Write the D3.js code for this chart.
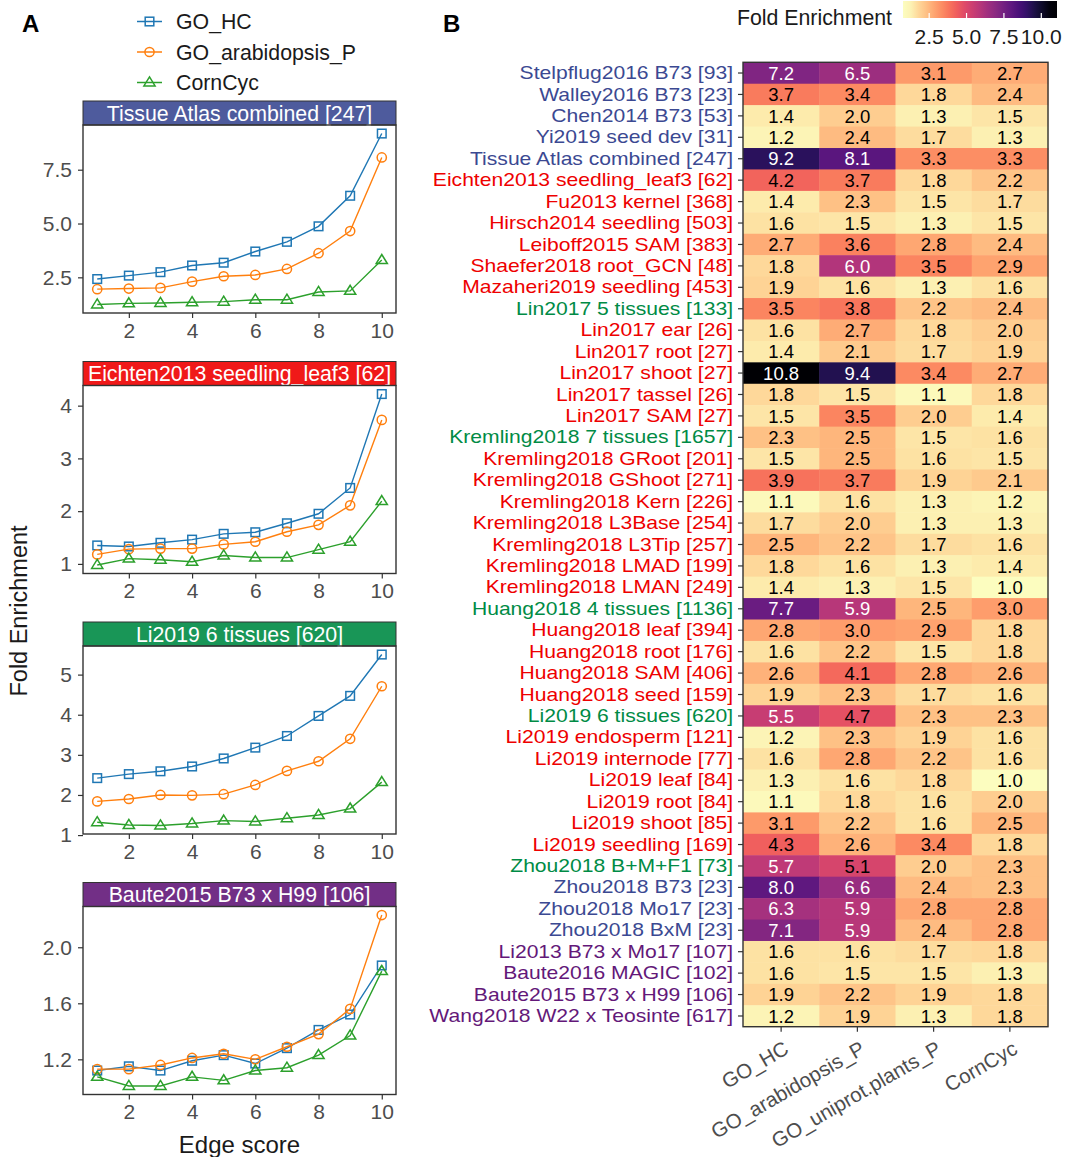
<!DOCTYPE html>
<html>
<head>
<meta charset="utf-8">
<script src="https://cdn.jsdelivr.net/npm/d3@7"></script>
<style>
  body { margin: 0; background: #fff; }
  text { font-family: "Liberation Sans", Arial, sans-serif; }
</style>
</head>
<body>
<script>
// ---------- panel A data ----------
var edgeScore = [1, 2, 3, 4, 5, 6, 7, 8, 9, 10];
var seriesNames = ["GO_HC", "GO_arabidopsis_P", "CornCyc"];
var seriesColors = ["#1f77b4", "#ff7f0e", "#2ca02c"];
var seriesShapes = ["square", "circle", "triangle"];
var panelTitles = ["Tissue Atlas combined [247]", "Eichten2013 seedling_leaf3 [62]",
                   "Li2019 6 tissues [620]", "Baute2015 B73 x H99 [106]"];
var panelGroup = ["B", "R", "G", "P"];
var goHC = [
  [2.42, 2.58, 2.74, 3.05, 3.18, 3.70, 4.15, 4.87, 6.29, 9.18],
  [1.35, 1.33, 1.40, 1.46, 1.57, 1.60, 1.77, 1.95, 2.44, 4.22],
  [2.42, 2.52, 2.59, 2.71, 2.91, 3.18, 3.47, 3.97, 4.47, 5.50],
  [1.12, 1.15, 1.12, 1.19, 1.23, 1.17, 1.28, 1.41, 1.52, 1.87]
];
var goArab = [
  [1.95, 1.98, 2.01, 2.30, 2.55, 2.61, 2.89, 3.62, 4.65, 8.07],
  [1.18, 1.28, 1.29, 1.29, 1.37, 1.42, 1.61, 1.74, 2.11, 3.73],
  [1.84, 1.90, 2.00, 1.99, 2.02, 2.25, 2.60, 2.84, 3.40, 4.71],
  [1.13, 1.13, 1.16, 1.21, 1.24, 1.20, 1.29, 1.38, 1.56, 2.23]
];
var cornCyc = [
  [1.24, 1.29, 1.31, 1.34, 1.37, 1.46, 1.46, 1.82, 1.87, 3.30],
  [0.98, 1.10, 1.08, 1.04, 1.16, 1.12, 1.12, 1.27, 1.42, 2.19],
  [1.32, 1.25, 1.24, 1.29, 1.36, 1.34, 1.42, 1.50, 1.66, 2.32],
  [1.075, 1.01, 1.01, 1.075, 1.05, 1.12, 1.14, 1.23, 1.37, 1.83]
];
var panelTicks = [[2.5, 5.0, 7.5], [1, 2, 3, 4], [1, 2, 3, 4, 5], [1.2, 1.6, 2.0]];
var panelTickFmt = [".1f", "d", "d", ".1f"];
var xTicks = [2, 4, 6, 8, 10];

// ---------- panel B data ----------
var datasets = ["Stelpflug2016 B73 [93]", "Walley2016 B73 [23]", "Chen2014 B73 [53]", "Yi2019 seed dev [31]",
  "Tissue Atlas combined [247]", "Eichten2013 seedling_leaf3 [62]", "Fu2013 kernel [368]", "Hirsch2014 seedling [503]",
  "Leiboff2015 SAM [383]", "Shaefer2018 root_GCN [48]", "Mazaheri2019 seedling [453]", "Lin2017 5 tissues [133]",
  "Lin2017 ear [26]", "Lin2017 root [27]", "Lin2017 shoot [27]", "Lin2017 tassel [26]", "Lin2017 SAM [27]",
  "Kremling2018 7 tissues [1657]", "Kremling2018 GRoot [201]", "Kremling2018 GShoot [271]", "Kremling2018 Kern [226]",
  "Kremling2018 L3Base [254]", "Kremling2018 L3Tip [257]", "Kremling2018 LMAD [199]", "Kremling2018 LMAN [249]",
  "Huang2018 4 tissues [1136]", "Huang2018 leaf [394]", "Huang2018 root [176]", "Huang2018 SAM [406]",
  "Huang2018 seed [159]", "Li2019 6 tissues [620]", "Li2019 endosperm [121]", "Li2019 internode [77]",
  "Li2019 leaf [84]", "Li2019 root [84]", "Li2019 shoot [85]", "Li2019 seedling [169]", "Zhou2018 B+M+F1 [73]",
  "Zhou2018 B73 [23]", "Zhou2018 Mo17 [23]", "Zhou2018 BxM [23]", "Li2013 B73 x Mo17 [107]",
  "Baute2016 MAGIC [102]", "Baute2015 B73 x H99 [106]", "Wang2018 W22 x Teosinte [617]"];
var datasetGroup = ["B","B","B","B","B","R","R","R","R","R","R","G","R","R","R","R","R","G",
  "R","R","R","R","R","R","R","G","R","R","R","R","G","R","R","R","R","R","R","G","B","B","B","P","P","P","P"];
var heatCols = ["GO_HC", "GO_arabidopsis_P", "GO_uniprot.plants_P", "CornCyc"];
var feGOHC = [7.2,3.7,1.4,1.2,9.2,4.2,1.4,1.6,2.7,1.8,1.9,3.5,1.6,1.4,10.8,1.8,1.5,2.3,1.5,3.9,1.1,1.7,2.5,1.8,1.4,
  7.7,2.8,1.6,2.6,1.9,5.5,1.2,1.6,1.3,1.1,3.1,4.3,5.7,8.0,6.3,7.1,1.6,1.6,1.9,1.2];
var feGOArab = [6.5,3.4,2.0,2.4,8.1,3.7,2.3,1.5,3.6,6.0,1.6,3.8,2.7,2.1,9.4,1.5,3.5,2.5,2.5,3.7,1.6,2.0,2.2,1.6,1.3,
  5.9,3.0,2.2,4.1,2.3,4.7,2.3,2.8,1.6,1.8,2.2,2.6,5.1,6.6,5.9,5.9,1.6,1.5,2.2,1.9];
var feUniprot = [3.1,1.8,1.3,1.7,3.3,1.8,1.5,1.3,2.8,3.5,1.3,2.2,1.8,1.7,3.4,1.1,2.0,1.5,1.6,1.9,1.3,1.3,1.7,1.3,1.5,
  2.5,2.9,1.5,2.8,1.7,2.3,1.9,2.2,1.8,1.6,1.6,3.4,2.0,2.4,2.8,2.4,1.7,1.5,1.9,1.3];
var feCornCyc = [2.7,2.4,1.5,1.3,3.3,2.2,1.7,1.5,2.4,2.9,1.6,2.4,2.0,1.9,2.7,1.8,1.4,1.6,1.5,2.1,1.2,1.3,1.6,1.4,1.0,
  3.0,1.8,1.8,2.6,1.6,2.3,1.6,1.6,1.0,2.0,2.5,1.8,2.3,2.3,2.8,2.8,1.8,1.3,1.8,1.8];
var legendTicks = [2.5, 5.0, 7.5, 10.0];

// AAAS-like group colours
var groupColor = { B: "#3B4992", R: "#EE0000", G: "#008B45", P: "#631879" };

var svg = d3.select("body").append("svg")
  .attr("width", 1065)
  .attr("height", 1157);

// panel letters
svg.append("text").attr("x", 22).attr("y", 32).attr("font-size", 24).attr("font-weight", "bold").text("A");
svg.append("text").attr("x", 443).attr("y", 32).attr("font-size", 24).attr("font-weight", "bold").text("B");

// ---------- panel A ----------
function drawMarker(g, shape, cx, cy, color) {
  if (shape == "square") {
    g.append("rect").attr("x", cx - 4.3).attr("y", cy - 4.3).attr("width", 8.6).attr("height", 8.6)
      .attr("fill", "none").attr("stroke", color).attr("stroke-width", 1.5);
  } else if (shape == "circle") {
    g.append("circle").attr("cx", cx).attr("cy", cy).attr("r", 4.6)
      .attr("fill", "none").attr("stroke", color).attr("stroke-width", 1.5);
  } else {
    var s = 5.6;
    g.append("path")
      .attr("d", "M" + cx + "," + (cy - s) + "L" + (cx + s) + "," + (cy + s * 0.62) + "L" + (cx - s) + "," + (cy + s * 0.62) + "Z")
      .attr("fill", "none").attr("stroke", color).attr("stroke-width", 1.5);
  }
}

// legend
seriesNames.forEach(function(name, k) {
  var ly = 21.5 + k * 30.5;
  svg.append("line").attr("x1", 137).attr("x2", 162).attr("y1", ly).attr("y2", ly)
    .attr("stroke", seriesColors[k]).attr("stroke-width", 1.5);
  drawMarker(svg, seriesShapes[k], 149.5, ly, seriesColors[k]);
  svg.append("text").attr("x", 176).attr("y", ly).attr("dy", "0.36em")
    .attr("font-size", 21.3).attr("fill", "#1a1a1a").text(name);
});

var plotL = 83, plotR = 396, stripH = 24, plotH = 188;
var x = d3.scaleLinear().domain([0.55, 10.45]).range([plotL, plotR]);

panelTitles.forEach(function(title, i) {
  var top = 101 + i * 260.5;
  var pTop = top + stripH, pBot = pTop + plotH;
  var series = [goHC[i], goArab[i], cornCyc[i]];
  var all = d3.merge(series);
  var ext = d3.extent(all), pad = (ext[1] - ext[0]) * 0.05;
  var y = d3.scaleLinear().domain([ext[0] - pad, ext[1] + pad]).range([pBot, pTop]);

  var g = svg.append("g");

  // strip
  g.append("rect").attr("x", plotL).attr("y", top).attr("width", plotR - plotL).attr("height", stripH)
    .attr("fill", groupColor[panelGroup[i]]).attr("fill-opacity", 0.9)
    .attr("stroke", "#333").attr("stroke-width", 1);
  g.append("text").attr("x", (plotL + plotR) / 2).attr("y", top + stripH / 2).attr("dy", "0.36em")
    .attr("text-anchor", "middle").attr("font-size", 21.3).attr("fill", "white").text(title);

  // axes
  var ya = g.append("g").attr("transform", "translate(" + plotL + ",0)")
    .call(d3.axisLeft(y).tickValues(panelTicks[i]).tickFormat(d3.format(panelTickFmt[i])).tickSize(5).tickPadding(6));
  var xa = g.append("g").attr("transform", "translate(0," + pBot + ")")
    .call(d3.axisBottom(x).tickValues(xTicks).tickSize(5).tickPadding(5));
  [ya, xa].forEach(function(a) {
    a.select(".domain").remove();
    a.selectAll(".tick line").attr("stroke", "#333").attr("stroke-width", 1.2);
    a.selectAll(".tick text").attr("font-size", 21).attr("fill", "#4D4D4D")
      .attr("font-family", "Liberation Sans, Arial, sans-serif");
  });

  // lines and markers
  series.forEach(function(vals, k) {
    var line = d3.line().x(function(d, j) { return x(edgeScore[j]); }).y(function(d) { return y(d); });
    g.append("path").datum(vals).attr("d", line).attr("fill", "none")
      .attr("stroke", seriesColors[k]).attr("stroke-width", 1.4);
    vals.forEach(function(v, j) {
      drawMarker(g, seriesShapes[k], x(edgeScore[j]), y(v), seriesColors[k]);
    });
  });

  // panel border
  g.append("rect").attr("x", plotL).attr("y", pTop).attr("width", plotR - plotL).attr("height", plotH)
    .attr("fill", "none").attr("stroke", "#333").attr("stroke-width", 1.4);
});

svg.append("text").attr("transform", "translate(27,611) rotate(-90)")
  .attr("text-anchor", "middle").attr("font-size", 23.5).attr("fill", "#1a1a1a").text("Fold Enrichment");
svg.append("text").attr("x", (plotL + plotR) / 2).attr("y", 1153)
  .attr("text-anchor", "middle").attr("font-size", 24).attr("fill", "#1a1a1a").text("Edge score");

// ---------- panel B: heatmap ----------
var hx = d3.scaleBand().domain(heatCols).range([743, 1048]);
var hy = d3.scaleBand().domain(datasets).range([62.3, 1026.7]);
var cellVals = [feGOHC, feGOArab, feUniprot, feCornCyc];
var cMin = d3.min(d3.merge(cellVals)), cMax = d3.max(d3.merge(cellVals));
var color = d3.scaleSequential(function(t) { return d3.interpolateMagma(1 - t); }).domain([cMin, cMax]);

var cells = [];
datasets.forEach(function(ds, r) {
  heatCols.forEach(function(col, c) {
    cells.push({ ds: ds, col: col, v: cellVals[c][r] });
  });
});

var hg = svg.append("g");
hg.selectAll("rect.cell").data(cells).enter().append("rect")
  .attr("class", "cell")
  .attr("x", function(d) { return hx(d.col); })
  .attr("y", function(d) { return hy(d.ds); })
  .attr("width", hx.bandwidth() + 0.5)
  .attr("height", hy.bandwidth() + 0.5)
  .attr("fill", function(d) { return color(d.v); });
hg.selectAll("text.val").data(cells).enter().append("text")
  .attr("class", "val")
  .attr("x", function(d) { return hx(d.col) + hx.bandwidth() / 2; })
  .attr("y", function(d) { return hy(d.ds) + hy.bandwidth() / 2; })
  .attr("dy", "0.36em")
  .attr("text-anchor", "middle")
  .attr("font-size", 18.5)
  .attr("fill", function(d) { return d.v > 5.3 ? "white" : "black"; })
  .text(function(d) { return d.v.toFixed(1); });

hg.append("rect").attr("x", 743).attr("y", 62.3).attr("width", 305).attr("height", 1026.7 - 62.3)
  .attr("fill", "none").attr("stroke", "#333").attr("stroke-width", 1.4);

// row labels: smaller font stretched sideways so rows do not collide
var hya = hg.append("g").attr("transform", "translate(743,0)")
  .call(d3.axisLeft(hy).tickSize(5).tickPadding(5));
hya.select(".domain").remove();
hya.selectAll(".tick line").attr("stroke", "#333").attr("stroke-width", 1.2);
hya.selectAll(".tick text").attr("font-size", 19)
  .attr("font-family", "Liberation Sans, Arial, sans-serif")
  .attr("fill", function(d) { return groupColor[datasetGroup[datasets.indexOf(d)]]; })
  .each(function() {
    var w = this.getComputedTextLength();
    d3.select(this).attr("textLength", w * 1.11).attr("lengthAdjust", "spacingAndGlyphs");
  });

var hxa = hg.append("g").attr("transform", "translate(0,1026.7)")
  .call(d3.axisBottom(hx).tickSize(5).tickPadding(3));
hxa.select(".domain").remove();
hxa.selectAll(".tick line").attr("stroke", "#333").attr("stroke-width", 1.2);
hxa.selectAll(".tick text").attr("font-size", 20.5).attr("fill", "#4D4D4D")
  .attr("font-family", "Liberation Sans, Arial, sans-serif")
  .attr("text-anchor", "end").attr("dy", null).attr("y", null)
  .attr("transform", "translate(9,26) rotate(-30)");

// ---------- colour legend ----------
var lx = d3.scaleLinear().domain([0.75, 11.05]).range([903, 1057]);
var defs = svg.append("defs");
var grad = defs.append("linearGradient").attr("id", "feGrad").attr("x1", "0%").attr("x2", "100%");
d3.range(0, 1.0001, 0.05).forEach(function(t) {
  grad.append("stop").attr("offset", (t * 100) + "%")
    .attr("stop-color", color(Math.max(cMin, Math.min(cMax, lx.invert(903 + t * 154)))));
});
svg.append("rect").attr("x", 903).attr("y", 1).attr("width", 154).attr("height", 17)
  .attr("fill", "url(#feGrad)");
legendTicks.forEach(function(v) {
  svg.append("line").attr("x1", lx(v)).attr("x2", lx(v)).attr("y1", 13).attr("y2", 18)
    .attr("stroke", "white").attr("stroke-width", 1.2);
  svg.append("text").attr("x", lx(v)).attr("y", 44).attr("text-anchor", "middle")
    .attr("font-size", 21).attr("fill", "#1a1a1a").text(d3.format(".1f")(v));
});
svg.append("text").attr("x", 892).attr("y", 25).attr("text-anchor", "end")
  .attr("font-size", 21.3).attr("fill", "#1a1a1a").text("Fold Enrichment");
</script>
</body>
</html>
